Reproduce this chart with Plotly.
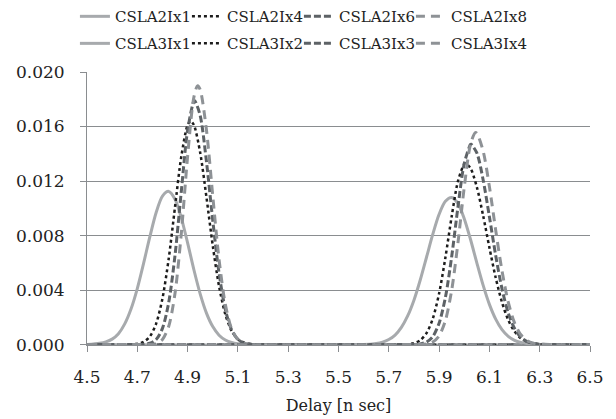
import plotly.graph_objects as go

# Delay distributions (probability density per bin) for the carry-select adder variants
csla2_x1_x = [4.5, 4.55, 4.575, 4.6, 4.625, 4.65, 4.675, 4.7, 4.725, 4.75, 4.775, 4.8, 4.825,
              4.85, 4.875, 4.9, 4.925, 4.95, 4.975, 5.0, 5.025, 5.05, 5.075, 5.1, 5.15, 6.5]
csla2_x1_y = [0.0, 0.0001, 0.0002, 0.0004, 0.0008, 0.00152, 0.00261, 0.00411, 0.00596, 0.00792,
              0.00969, 0.01089, 0.01124, 0.01067, 0.0093, 0.00746, 0.00549, 0.00372, 0.00231,
              0.00132, 0.00069, 0.00034, 0.00015, 0.00006, 0.0, 0.0]

csla2_x4_x = [4.5, 4.65, 4.7, 4.725, 4.75, 4.775, 4.8, 4.825, 4.85, 4.875, 4.9, 4.912, 4.925,
              4.95, 4.975, 5.0, 5.025, 5.05, 5.075, 5.1, 5.125, 5.15, 5.2, 6.5]
csla2_x4_y = [0.0, 0.0, 0.00006, 0.0002, 0.0006, 0.00154, 0.00338, 0.00632, 0.0101, 0.0138,
              0.0161, 0.0164, 0.01611, 0.01409, 0.01081, 0.00727, 0.00429, 0.00222, 0.00101,
              0.0004, 0.00014, 0.00004, 0.0, 0.0]

csla2_x6_x = [4.5, 4.675, 4.725, 4.75, 4.775, 4.8, 4.825, 4.85, 4.875, 4.9, 4.925, 4.928, 4.95,
              4.975, 5.0, 5.025, 5.05, 5.075, 5.1, 5.125, 5.15, 5.2, 6.5]
csla2_x6_y = [0.0, 0.0, 0.00002, 0.0001, 0.00037, 0.00119, 0.0031, 0.00655, 0.01125, 0.01572,
              0.01787, 0.0179, 0.01681, 0.01343, 0.00912, 0.00526, 0.00258, 0.00108, 0.00038,
              0.00011, 0.00003, 0.0, 0.0]

csla2_x8_x = [4.5, 4.7, 4.75, 4.775, 4.8, 4.825, 4.85, 4.875, 4.9, 4.925, 4.94, 4.95, 4.975,
              5.0, 5.025, 5.05, 5.075, 5.1, 5.125, 5.15, 5.2, 6.5]
csla2_x8_y = [0.0, 0.0, 0.00001, 0.00008, 0.00038, 0.00135, 0.00376, 0.00816, 0.0138, 0.01816,
              0.019, 0.01871, 0.01574, 0.01092, 0.00625, 0.00295, 0.00115, 0.00037, 0.0001,
              0.00002, 0.0, 0.0]

csla3_x1_x = [4.5, 5.6, 5.65, 5.675, 5.7, 5.725, 5.75, 5.775, 5.8, 5.825, 5.85, 5.875, 5.9,
              5.925, 5.95, 5.975, 6.0, 6.025, 6.05, 6.075, 6.1, 6.125, 6.15, 6.175, 6.2, 6.225,
              6.25, 6.3, 6.5]
csla3_x1_y = [0.0, 0.0, 0.00008, 0.00018, 0.00037, 0.0007, 0.00126, 0.0021, 0.00326, 0.00474,
              0.00641, 0.0081, 0.00956, 0.01051, 0.01079, 0.01034, 0.00924, 0.00771, 0.006,
              0.00436, 0.00295, 0.00187, 0.0011, 0.00061, 0.00031, 0.00015, 0.00007, 0.0, 0.0]

csla3_x2_x = [4.5, 5.725, 5.775, 5.8, 5.825, 5.85, 5.875, 5.9, 5.925, 5.95, 5.975, 6.0, 6.005,
              6.025, 6.05, 6.075, 6.1, 6.125, 6.15, 6.175, 6.2, 6.225, 6.25, 6.275, 6.3, 6.35, 6.5]
csla3_x2_y = [0.0, 0.0, 0.00003, 0.00011, 0.00032, 0.00084, 0.00191, 0.00375, 0.00638, 0.0094,
              0.01199, 0.01326, 0.0133, 0.01294, 0.01156, 0.00947, 0.00712, 0.00491, 0.0031,
              0.0018, 0.00096, 0.00047, 0.00021, 0.00009, 0.00003, 0.0, 0.0]

csla3_x3_x = [4.5, 5.75, 5.8, 5.825, 5.85, 5.875, 5.9, 5.925, 5.95, 5.975, 6.0, 6.025, 6.027,
              6.05, 6.075, 6.1, 6.125, 6.15, 6.175, 6.2, 6.225, 6.25, 6.275, 6.3, 6.35, 6.5]
csla3_x3_y = [0.0, 0.0, 0.00001, 0.00005, 0.00019, 0.00059, 0.00157, 0.00346, 0.00645, 0.0101,
              0.01328, 0.01469, 0.0147, 0.01406, 0.0121, 0.00938, 0.00654, 0.0041, 0.00232,
              0.00118, 0.00054, 0.00022, 0.00008, 0.00003, 0.0, 0.0]

csla3_x4_x = [4.5, 5.775, 5.825, 5.85, 5.875, 5.9, 5.925, 5.95, 5.975, 6.0, 6.025, 6.044, 6.05,
              6.075, 6.1, 6.125, 6.15, 6.175, 6.2, 6.225, 6.25, 6.275, 6.3, 6.35, 6.5]
csla3_x4_y = [0.0, 0.0, 0.00001, 0.00005, 0.00019, 0.00064, 0.00176, 0.00399, 0.00747, 0.01154,
              0.01471, 0.01555, 0.0155, 0.01421, 0.01159, 0.0084, 0.00542, 0.00311, 0.00159,
              0.00072, 0.00029, 0.0001, 0.00003, 0.0, 0.0]

x_ticks = [4.5, 4.7, 4.9, 5.1, 5.3, 5.5, 5.7, 5.9, 6.1, 6.3, 6.5]
y_ticks = [0.0, 0.004, 0.008, 0.012, 0.016, 0.020]

SOLID = dict(color="#a7aaad", width=3, dash="solid")
DOTTED = dict(color="#1c1c1c", width=2.5, dash="dot")
DASHED = dict(color="#5d6266", width=3, dash="7px,3px")
LONGDASH = dict(color="#8e9296", width=3, dash="9px,6px")

# (name, x, y, style, legend row)
series = [
    ("CSLA2Ix1", csla2_x1_x, csla2_x1_y, SOLID, "legend"),
    ("CSLA2Ix4", csla2_x4_x, csla2_x4_y, DOTTED, "legend"),
    ("CSLA2Ix6", csla2_x6_x, csla2_x6_y, DASHED, "legend"),
    ("CSLA2Ix8", csla2_x8_x, csla2_x8_y, LONGDASH, "legend"),
    ("CSLA3Ix1", csla3_x1_x, csla3_x1_y, SOLID, "legend2"),
    ("CSLA3Ix2", csla3_x2_x, csla3_x2_y, DOTTED, "legend2"),
    ("CSLA3Ix3", csla3_x3_x, csla3_x3_y, DASHED, "legend2"),
    ("CSLA3Ix4", csla3_x4_x, csla3_x4_y, LONGDASH, "legend2"),
]

fig = go.Figure()
for name, xs, ys, style, leg in series:
    fig.add_trace(go.Scatter(
        x=xs, y=ys, name=name, mode="lines", legend=leg,
        line=dict(color=style["color"], width=style["width"], dash=style["dash"],
                  shape="spline", smoothing=0.8),
    ))

# blank trailing entry per legend row so the last label keeps its full width
for leg in ("legend", "legend2"):
    fig.add_trace(go.Scatter(
        x=[None], y=[None], name=" ", mode="lines", legend=leg,
        line=dict(color="rgba(0,0,0,0)", width=0), hoverinfo="skip",
    ))

FONT = "DejaVu Serif"
TEXT = "#222222"
AXIS_GRAY = "#8a8d90"

legend_common = dict(
    orientation="h", xanchor="left", yanchor="middle",
    font=dict(family=FONT, size=15, color=TEXT),
    entrywidth=67, entrywidthmode="pixels",
    bgcolor="rgba(0,0,0,0)", itemwidth=30,
)

fig.update_layout(
    width=616, height=419,
    margin=dict(l=87, r=26, t=72, b=74, autoexpand=False),
    paper_bgcolor="white", plot_bgcolor="white",
    font=dict(family=FONT, size=16, color=TEXT),
    showlegend=True,
    legend=dict(x=-0.024, y=1.203, **legend_common),
    legend2=dict(x=-0.024, y=1.104, **legend_common),
    xaxis=dict(
        range=[4.5, 6.5], tickmode="array", tickvals=x_ticks,
        ticktext=[f"{v:.1f}" for v in x_ticks],
        showgrid=False, zeroline=False, automargin=False,
        showline=True, linecolor=AXIS_GRAY, linewidth=1,
        ticks="outside", ticklen=6, tickcolor=AXIS_GRAY,
        ticklabelstandoff=11,
        tickfont=dict(family=FONT, size=17, color=TEXT),
        title=dict(text="Delay [n sec]", font=dict(family=FONT, size=16, color=TEXT),
                   standoff=13),
    ),
    yaxis=dict(
        range=[-0.00003, 0.020], tickmode="array", tickvals=y_ticks,
        ticktext=[f"{v:.3f}" for v in y_ticks],
        showgrid=True, gridcolor=AXIS_GRAY, gridwidth=1, zeroline=False, automargin=False,
        showline=True, linecolor=AXIS_GRAY, linewidth=1,
        ticks="outside", ticklen=6, tickcolor=AXIS_GRAY,
        ticklabelstandoff=12,
        tickfont=dict(family=FONT, size=17, color=TEXT),
    ),
)

fig.write_html("out.html")
